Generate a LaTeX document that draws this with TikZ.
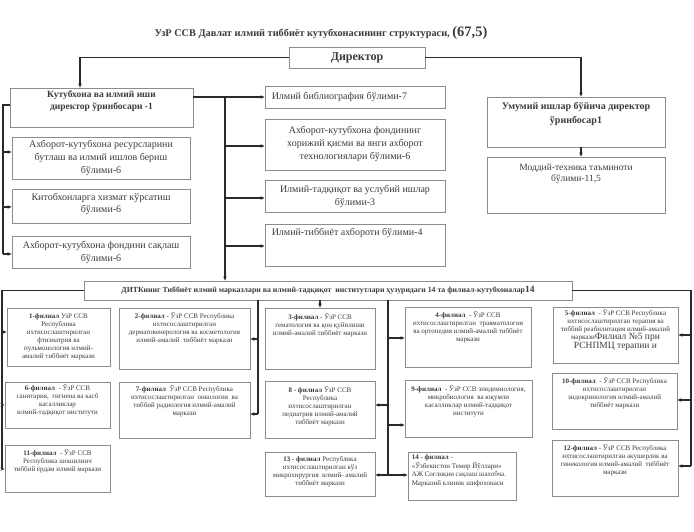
\documentclass[tikz,border=0pt]{standalone}
\usepackage{fontspec}
\setmainfont{Liberation Serif}
\usetikzlibrary{arrows.meta}
\definecolor{boxc}{HTML}{8C8C8C}
\definecolor{txtc}{HTML}{3C3C3C}
\definecolor{lnc}{HTML}{2A2A2A}
\newcommand\bx[5]{\node[box, minimum width={(#4-#2)*1pt}, minimum height={(#5-#3)*1pt}] (#1) at ({(#2+#4)/2},{(#3+#5)/2}) {};}
\newcommand\fz[2]{\fontsize{#1}{#2}\selectfont}
\begin{document}
\begin{tikzpicture}[x=1pt,y=-1pt,
 box/.style={draw=boxc, line width=0.9pt, inner sep=0pt, fill=white},
 txt/.style={align=center, text=txtc, inner sep=0pt},
 ftxt/.style={txt, anchor=north, font=\fz{7}{8}},
 dtxt/.style={txt, font=\fz{10}{13}},
 ln/.style={draw=lnc, line width=1.1pt},
 arr/.style={ln, -{Stealth[length=4pt,width=3.5pt]}},
]
\useasboundingbox[fill=white] (0,0) rectangle (694,532);

% title
\node[txt, font=\bfseries\fz{10.3}{12}] (title) at (321,33) {УзР ССВ Давлат илмий тиббиёт кутубхонасининг структураси, {\fz{14.5}{16}(67,5)}};

% top level
\bx{Dir}{289}{47}{425}{68}
\node[txt, font=\bfseries\fz{12}{14}] (Dirt) at (Dir) {Директор};

\bx{Dep}{10}{88}{193}{127}
\node[txt, anchor=north, font=\bfseries\fz{9.5}{12}] (Dept) at ([yshift=-3pt]Dep.north) {Кутубхона ва илмий иши\\директор ўринбосари -1};

\bx{Umm}{487}{97}{665}{147}
\node[txt, anchor=north, font=\bfseries\fz{10}{13.5}] (Ummt) at ([yshift=-6pt]Umm.north) {Умумий ишлар бўйича директор\\ўринбосар1};

\bx{Mod}{487}{157}{665}{213}
\node[txt, anchor=north, font=\fz{9.5}{11.5}] (Modt) at ([yshift=-7pt]Mod.north) {Моддий-техника таъминоти\\бўлими-11,5};

% left departments
\bx{L1}{12}{137}{190}{179}
\node[dtxt] (L1t) at (L1) {Ахборот-кутубхона ресурсларини\\бутлаш ва илмий ишлов бериш\\бўлими-6};
\bx{L2}{12}{189}{190}{223}
\node[dtxt] (L2t) at ([yshift=2pt]L2.center) {Китобхонларга хизмат кўрсатиш\\бўлими-6};
\bx{L3}{12}{236}{190}{268}
\node[dtxt] (L3t) at (L3) {Ахборот-кутубхона фондини сақлаш\\бўлими-6};

% middle departments
\bx{Bib}{265}{86}{445}{108}
\node[dtxt, anchor=west] (Bibt) at ([xshift=7pt]Bib.west) {Илмий библиография бўлими-7};
\bx{Xor}{265}{119}{445}{170}
\node[dtxt] (Xort) at (Xor) {Ахборот-кутубхона фондининг\\хорижий қисми ва янги ахборот\\технологиялари бўлими-6};
\bx{Tad}{265}{180}{445}{212}
\node[dtxt] (Tadt) at (Tad) {Илмий-тадқиқот ва услубий ишлар\\бўлими-3};
\bx{Axb}{265}{224}{445}{266}
\node[dtxt, anchor=north west] (Axbt) at ([xshift=7pt,yshift=-5pt]Axb.north west) {Илмий-тиббиёт ахбороти бўлими-4};

% DITK
\bx{DITK}{84}{281}{572}{300}
\node[txt, font=\bfseries\fz{7.8}{9}] (DITKt) at (DITK) {ДИТКнинг Тиббиёт илмий марказлари ва илмий-тадқиқот\ \ институтлари ҳузуридаги 14 та филиал-кутубхоналар{\fz{9.5}{10}14}};

% filials
\bx{F1}{7}{308}{110}{366}
\node[ftxt] (F1t) at ([yshift=-6pt]F1.north) {\textbf{1-филиал} УзР ССВ\\Республика\\ихтисослаштирилган\\фтизиатрия ва\\пульмонология илмий-\\амалий тиббиёт маркази};
\bx{F2}{119}{308}{250}{369}
\node[ftxt] (F2t) at ([yshift=-5pt]F2.north) {\textbf{2-филиал} - ЎзР ССВ Республика\\ихтисослаштирилган\\дерматовенерология ва косметология\\илмий-амалий\ \ тиббиёт маркази};
\bx{F3}{265}{308}{375}{369}
\node[ftxt] (F3t) at ([yshift=-6pt]F3.north) {\textbf{3-филиал} - ЎзР ССВ\\гематология ва қон қуйилиши\\илмий-амалий тиббиёт маркази};
\bx{F4}{405}{307}{531}{367}
\node[ftxt] (F4t) at ([yshift=-5pt]F4.north) {\textbf{4-филиал}\ \ - ЎзР ССВ\\ихтисослаштирилган\ \ травматология\\ва ортопедия илмий-амалий тиббиёт\\маркази};
\bx{F5}{553}{307}{678}{363}
\node[ftxt] (F5t) at ([yshift=-3pt]F5.north) {\textbf{5-филиал}\ \ - ЎзР ССВ Республика\\ихтисослаштирилган терапия ва\\тиббий реабилитация илмий-амалий\\маркази{\fz{9.5}{11}Филиал №5 при}\\{\fz{9.5}{11}РСНПМЦ терапии и}};
\bx{F6}{5}{382}{110}{428}
\node[ftxt] (F6t) at ([yshift=-3pt]F6.north) {\textbf{6-филиал}\ \ - ЎзР ССВ\\санитария,\ \ гигиена ва касб\\касалликлар\\илмий-тадқиқот институти};
\bx{F7}{119}{382}{250}{438}
\node[ftxt] (F7t) at ([yshift=-4pt]F7.north) {\textbf{7-филиал}\ \ ЎзР ССВ Республика\\ихтисослаштирилган\ \ онкология\ \ ва\\тиббий радиология илмий-амалий\\маркази};
\bx{F8}{265}{381}{375}{438}
\node[ftxt] (F8t) at ([yshift=-6pt]F8.north) {\textbf{8 - филиал} ЎзР ССВ\\Республика\\ихтисослаштирилган\\педиатрия илмий-амалий\\тиббиёт маркази};
\bx{F9}{405}{380}{532}{437}
\node[ftxt] (F9t) at ([yshift=-6pt]F9.north) {\textbf{9-филиал}\ \ - ЎзР ССВ эпидемиология,\\микробиология\ \ ва юқумли\\касалликлар илмий-тадқиқот\\институти};
\bx{F10}{552}{373}{677}{429}
\node[ftxt] (F10t) at ([yshift=-5pt]F10.north) {\textbf{10-филиал}\ \ - ЎзР ССВ Республика\\ихтисослаштирилган\\эндокринология илмий-амалий\\тиббиёт маркази};
\bx{F11}{5}{445}{110}{492}
\node[ftxt] (F11t) at ([yshift=-5pt]F11.north) {\textbf{11-филиал}\ \ - ЎзР ССВ\\Республика шошилинч\\тиббий ёрдам илмий маркази};
\bx{F12}{552}{440}{678}{496}
\node[ftxt] (F12t) at ([yshift=-5pt]F12.north) {\textbf{12-филиал} - ЎзР ССВ Республика\\ихтисослаштирилган акушерлик ва\\гинекология илмий-амалий\ \ тиббиёт\\маркази};
\bx{F13}{265}{452}{375}{496}
\node[ftxt] (F13t) at ([yshift=-5pt]F13.north) {\textbf{13 - филиал} Республика\\ихтисослаштирилган кўз\\микрохирургия\ \ илмий- амалий\\тиббиёт маркази};
\bx{F14}{408}{452}{516}{500}
\node[txt, align=left, anchor=north west, font=\fz{7}{8.5}] (F14t) at ([xshift=4pt,yshift=-3pt]F14.north west) {\textbf{14 - филиал} -\\«Ўзбекистон Темир Йўллари»\\АЖ Соғлиқни сақлаш шахобча.\\Марказий клиник шифохонаси};

% ---------- connectors ----------
% director
\coordinate (dirL) at (80,57.5);
\coordinate (dirR) at (581,57.5);
\draw[arr] (Dir.west) -- (dirL) -- (dirL |- Dep.north);
\draw[arr] (Dir.east) -- (dirR) -- (dirR |- Umm.north);
\draw[arr] (dirR |- Umm.south) -- (dirR |- Mod.north);

% deputy left bus
\coordinate (dl0) at (3,105);
\coordinate (dl1) at (3,152);
\coordinate (dl2) at (3,207);
\coordinate (dl3) at (3,254);
\draw[ln] (dl0 -| Dep.west) -- (dl0) -- (dl3);
\draw[arr] (dl1) -- (dl1 -| L1.west);
\draw[arr] (dl2) -- (dl2 -| L2.west);
\draw[arr] (dl3) -- (dl3 -| L3.west);

% deputy right bus
\coordinate (dr0) at (225,97);
\coordinate (dr1) at (225,146);
\coordinate (dr2) at (225,198);
\coordinate (dr3) at (225,246);
\draw[ln] (dr0 -| Dep.east) -- (dr0);
\draw[arr] (dr0) -- (dr0 -| Bib.west);
\draw[arr] (dr0) -- (dr0 |- DITK.north);
\draw[arr] (dr1) -- (dr1 -| Xor.west);
\draw[arr] (dr2) -- (dr2 -| Tad.west);
\draw[arr] (dr3) -- (dr3 -| Axb.west);

% DITK left bus
\coordinate (bl0) at (2,290.5);
\coordinate (bl1) at (2,332);
\coordinate (bl2) at (2,405);
\coordinate (bl3) at (2,469);
\draw[ln] (DITK.west) -- (bl0) -- (bl3);
\draw[arr] (bl1) -- (bl1 -| F1.west);
\draw[arr] (bl2) -- (bl2 -| F6.west);
\draw[arr] (bl3) -- (bl3 -| F11.west);

% DITK right bus
\coordinate (br0) at (691,290.5);
\coordinate (br1) at (691,335);
\coordinate (br2) at (691,400);
\coordinate (br3) at (691,466);
\draw[ln] (DITK.east) -- (br0) -- (br3);
\draw[arr] (br1) -- (br1 -| F5.east);
\draw[arr] (br2) -- (br2 -| F10.east);
\draw[arr] (br3) -- (br3 -| F12.east);

% middle bus 1
\coordinate (ma) at (258,300);
\coordinate (mb) at (258,339);
\coordinate (mc) at (258,414);
\draw[ln] (ma) -- (mc);
\draw[arr] (mb) -- (mb -| F2.east);
\draw[arr] (mc) -- (mc -| F7.east);

% F3
\draw[arr] (F3.north |- DITK.south) -- (F3.north);

% middle bus 2
\coordinate (na) at (388,300);
\coordinate (nb) at (388,338);
\coordinate (nc) at (388,405);
\coordinate (nd) at (388,425);
\coordinate (ne) at (388,475);
\draw[ln] (na) -- (ne);
\draw[arr] (nb) -- (nb -| F4.west);
\draw[arr] (nc) -- (nc -| F8.east);
\draw[arr] (nd) -- (nd -| F9.west);
\draw[arr] (ne) -- (ne -| F13.east);
\draw[arr] (ne) -- (ne -| F14.west);
\end{tikzpicture}
\end{document}
